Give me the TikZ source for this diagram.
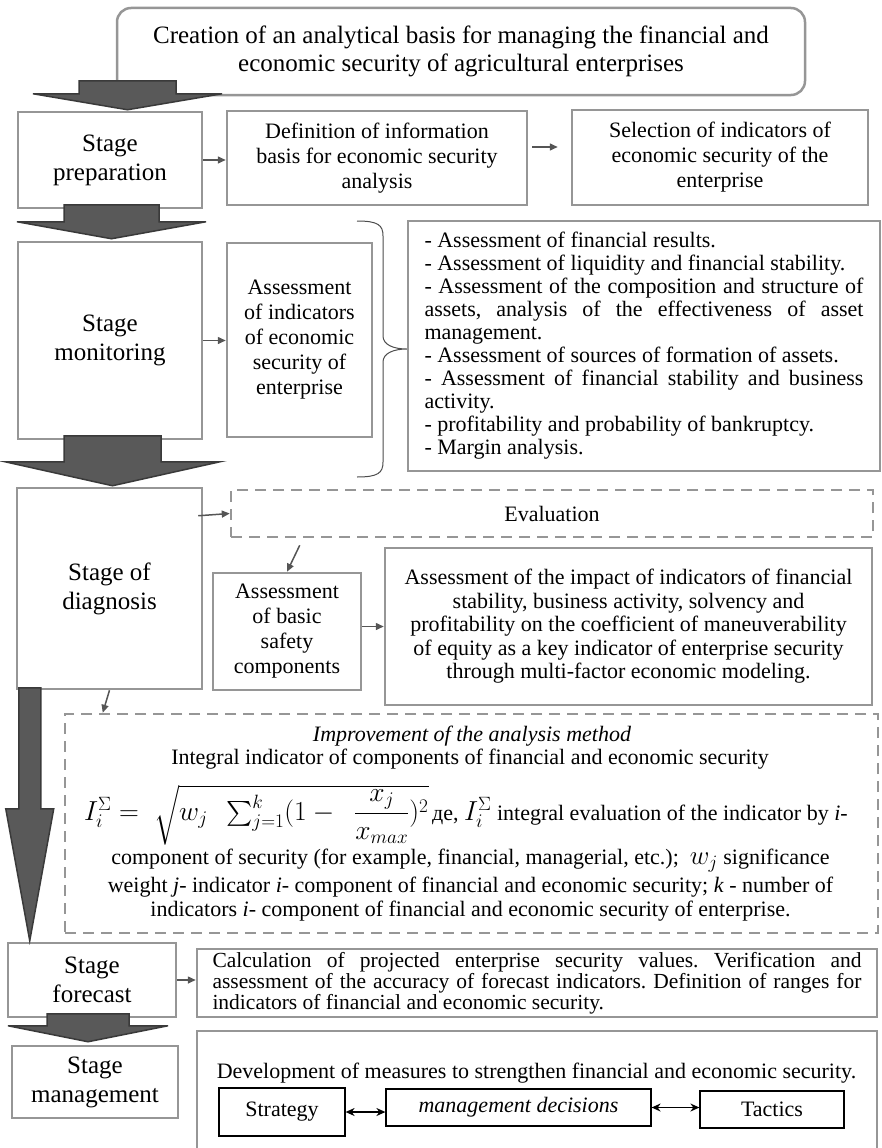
\documentclass[tikz,border=0pt]{standalone}
\usepackage{fix-cm}
\usepackage{fontspec}
\setmainfont{Liberation Serif}
\usepackage{amsmath}
\usetikzlibrary{positioning}
\usetikzlibrary{arrows.meta}
\definecolor{boxgray}{RGB}{150,150,150}
\definecolor{arrowfill}{RGB}{89,89,89}
\definecolor{arrowdark}{RGB}{58,58,58}
\definecolor{edgegray}{RGB}{85,85,85}
\frenchspacing
\tikzset{
    stagenode/.style = {rectangle, line width=2.5pt, draw=boxgray, fill=white, align=center, font=\fontsize{25}{29}\selectfont, inner sep=2pt},
    boxnode/.style = {rectangle, line width=2.5pt, draw=boxgray, fill=white, align=center, font=\fontsize{22}{25}\selectfont, inner sep=2pt},
    dashnode/.style = {rectangle, line width=2.5pt, draw=boxgray, dash pattern=on 11pt off 7pt, align=center, font=\fontsize{22}{25}\selectfont},
    smallnode/.style = {rectangle, line width=1.2pt, draw=black, fill=white, font=\fontsize{22}{25}\selectfont},
    textnode/.style = {inner sep=0pt, align=center, font=\fontsize{22}{25}\selectfont},
    edgea/.style = {-{Triangle[length=8pt,width=7pt]}, line width=1.5pt, edgegray},
    edgeb/.style = {{Stealth[length=9pt,width=8pt]}-{Stealth[length=9pt,width=8pt]}, line width=1.5pt, black},
    bigarrow/.style = {fill=arrowfill, draw=arrowdark, line width=1.5pt},
    bracen/.style = {line width=1pt, black!70}
}

\begin{document}
\begin{tikzpicture}[x=1pt,y=-1pt]
\useasboundingbox (0,0) rectangle (882,1148);

% goal
\node[boxnode, rounded corners=14pt, minimum width=688pt, minimum height=87pt, font=\fontsize{25}{28}\selectfont] at (461,51.5) (top) {Creation of an analytical basis for managing the financial and\\ economic security of agricultural enterprises};

% preparation
\node[stagenode, minimum width=184pt, minimum height=96pt] at (110,160) (prep) {Stage\\ preparation};
\node[boxnode, minimum width=300pt, minimum height=94pt] at (377,158) (def) {Definition of information\\ basis for economic security\\ analysis};
\node[boxnode, minimum width=296pt, minimum height=95pt] at (720,157.5) (sel) {Selection of indicators of\\ economic security of the\\ enterprise};

% monitoring
\node[stagenode, minimum width=184pt, minimum height=197pt] at (110,340.5) (mon) {Stage\\ monitoring};
\node[boxnode, minimum width=145pt, minimum height=194pt] at (299.5,340) (ind) {Assessment\\ of indicators\\ of economic\\ security of\\ enterprise};
\node[boxnode, minimum width=472pt, minimum height=250pt, text width=439pt, align=justify, font=\fontsize{22}{23}\selectfont] at (644,346) (list) {- Assessment of financial results.\\
- Assessment of liquidity and financial stability.\\
- Assessment of the composition and structure of\linebreak assets, analysis of the effectiveness of asset\linebreak management.\\
- Assessment of sources of formation of assets.\\
- Assessment of financial stability and business\linebreak activity.\\
- profitability and probability of bankruptcy.\\
- Margin analysis.};

% diagnosis
\node[stagenode, minimum width=185pt, minimum height=201pt] at (109.5,588.5) (diag) {Stage of\\ diagnosis};
\node[dashnode, minimum width=642pt, minimum height=47pt] at (552,513.5) (eval) {Evaluation};
\node[boxnode, minimum width=148pt, minimum height=117pt] at (287,631.5) (safe) {Assessment\\ of basic\\ safety\\ components};
\node[boxnode, minimum width=487pt, minimum height=157pt, font=\fontsize{22}{23.5}\selectfont] at (628.5,626.5) (impact) {Assessment of the impact of indicators of financial\\ stability, business activity, solvency and\\ profitability on the coefficient of maneuverability\\ of equity as a key indicator of enterprise security\\ through multi-factor economic modeling.};

% improvement of the method
\node[dashnode, minimum width=813pt, minimum height=219pt] at (471.5,823.5) (impr) {};
\node[textnode, font=\fontsize{22}{25}\selectfont\itshape] at (472,736) (imph) {Improvement of the analysis method};
\node[textnode] at (470,759) (impi) {Integral indicator of components of financial and economic security};
\node[textnode, anchor=west] at (84,815) (impf) {{\fontsize{27.5}{30}\selectfont $I_i^{\Sigma} =\; \sqrt{w_j\ \ \sum_{j=1}^{k}(1-\ \ \dfrac{x_j}{x_{max}})^2}$}\,де, {\fontsize{27.5}{30}\selectfont $I_i^{\Sigma}$} integral evaluation of the indicator by \textit{i}-};
\node[textnode] at (470.5,861) (impa) {component of security (for example, financial, managerial, etc.);\ \ {\fontsize{27}{30}\selectfont $w_j$} significance};
\node[textnode] at (470.5,887) (impb) {weight \textit{j}- indicator \textit{i}- component of financial and economic security; \textit{k} - number of};
\node[textnode] at (470.5,911) (impc) {indicators \textit{i}- component of financial and economic security of enterprise.};

% forecast
\node[stagenode, minimum width=168pt, minimum height=74pt] at (92,980) (fore) {Stage\\ forecast};
\node[boxnode, minimum width=680pt, minimum height=68pt, text width=649pt, align=justify, font=\fontsize{21.5}{21}\selectfont] at (537,983) (calc) {Calculation of projected enterprise security values. Verification and\linebreak assessment of the accuracy of forecast indicators. Definition of ranges for\linebreak indicators of financial and economic security.};

% management
\node[stagenode, minimum width=166pt, minimum height=72pt] at (95,1082) (mgmt) {Stage\\ management};
\node[boxnode, minimum width=680pt, minimum height=150pt] at (537,1106) (meas) {};
\node[textnode] at (536.5,1073) (dev) {Development of measures to strengthen financial and economic security.};
\node[smallnode, minimum width=126pt, minimum height=48pt] at (282,1112) (strat) {Strategy};
\node[smallnode, minimum width=265pt, minimum height=37pt, font=\fontsize{22}{25}\selectfont\itshape] at (518.5,1107.5) (dec) {management decisions};
\node[smallnode, minimum width=144pt, minimum height=37pt] at (772,1109.5) (tact) {Tactics};

% small arrows
\draw[edgea] (prep.east) -- (prep.east -| def.west);
\draw[edgea, shorten <=4pt, shorten >=13pt] ([yshift=11pt]def.east) -- ([yshift=11pt]def.east -| sel.west);
\draw[edgea] (mon.east) -- (mon.east -| ind.west);
\draw[edgea] ([xshift=-5pt,yshift=-29pt]diag.north east) -- (eval.west);
\draw[edgea] ([xshift=70pt,yshift=-7pt]eval.south west) -- (safe.north);
\draw[edgea] (safe.east |- impact.west) -- (impact.west);
\draw[edgea] (diag.south) -- ([xshift=39pt]impr.north west);
\draw[edgea] (fore.east) -- (fore.east -| calc.west);
\draw[edgeb] (strat.east) -- (strat.east -| dec.west);
\draw[edgeb] (dec.east) -- (dec.east -| tact.west);

% brace
\draw[bracen] (357,221) .. controls (378,221) and (383,225) .. (383,236) -- (383,336) .. controls (383,345) and (394,349) .. (list.west |- 0,349) .. controls (394,349) and (383,353) .. (383,362) -- (383,462) .. controls (383,473) and (378,477) .. (357,477);

% stage arrows
\coordinate (t1) at ([xshift=17.5pt,yshift=1pt]prep.north);
\coordinate (t2) at ([xshift=1.5pt,yshift=2pt]mon.north);
\coordinate (t3) at ([xshift=3pt,yshift=1pt]diag.north);
\coordinate (t4) at ([xshift=23pt,yshift=1pt]fore.north west);
\coordinate (t5) at ([xshift=-7pt,yshift=3pt]mgmt.north);
\draw[bigarrow] (t1) ++(-48.5,-29) -- ++(97,0) -- ++(0,13) -- ++(46,0) -- (t1) -- ++(-94.5,-16) -- ++(46,0) -- cycle;
\draw[bigarrow] (t2) ++(-47.5,-34) -- ++(95,0) -- ++(0,17) -- ++(47,0) -- (t2) -- ++(-94.5,-17) -- ++(47,0) -- cycle;
\draw[bigarrow] (t3) ++(-48.5,-50) -- ++(97,0) -- ++(0,26) -- ++(59,0) -- (t3) -- ++(-107.5,-24) -- ++(59,0) -- cycle;
\draw[bigarrow] (t4) ++(-11,-253) -- ++(22,0) -- ++(0,121) -- ++(13,0) -- (t4) -- ++(-24,-132) -- ++(13,0) -- cycle;
\draw[bigarrow] (t5) ++(-41,-28) -- ++(82,0) -- ++(0,12) -- ++(39,0) -- (t5) -- ++(-80,-16) -- ++(39,0) -- cycle;

\end{tikzpicture}
\end{document}
